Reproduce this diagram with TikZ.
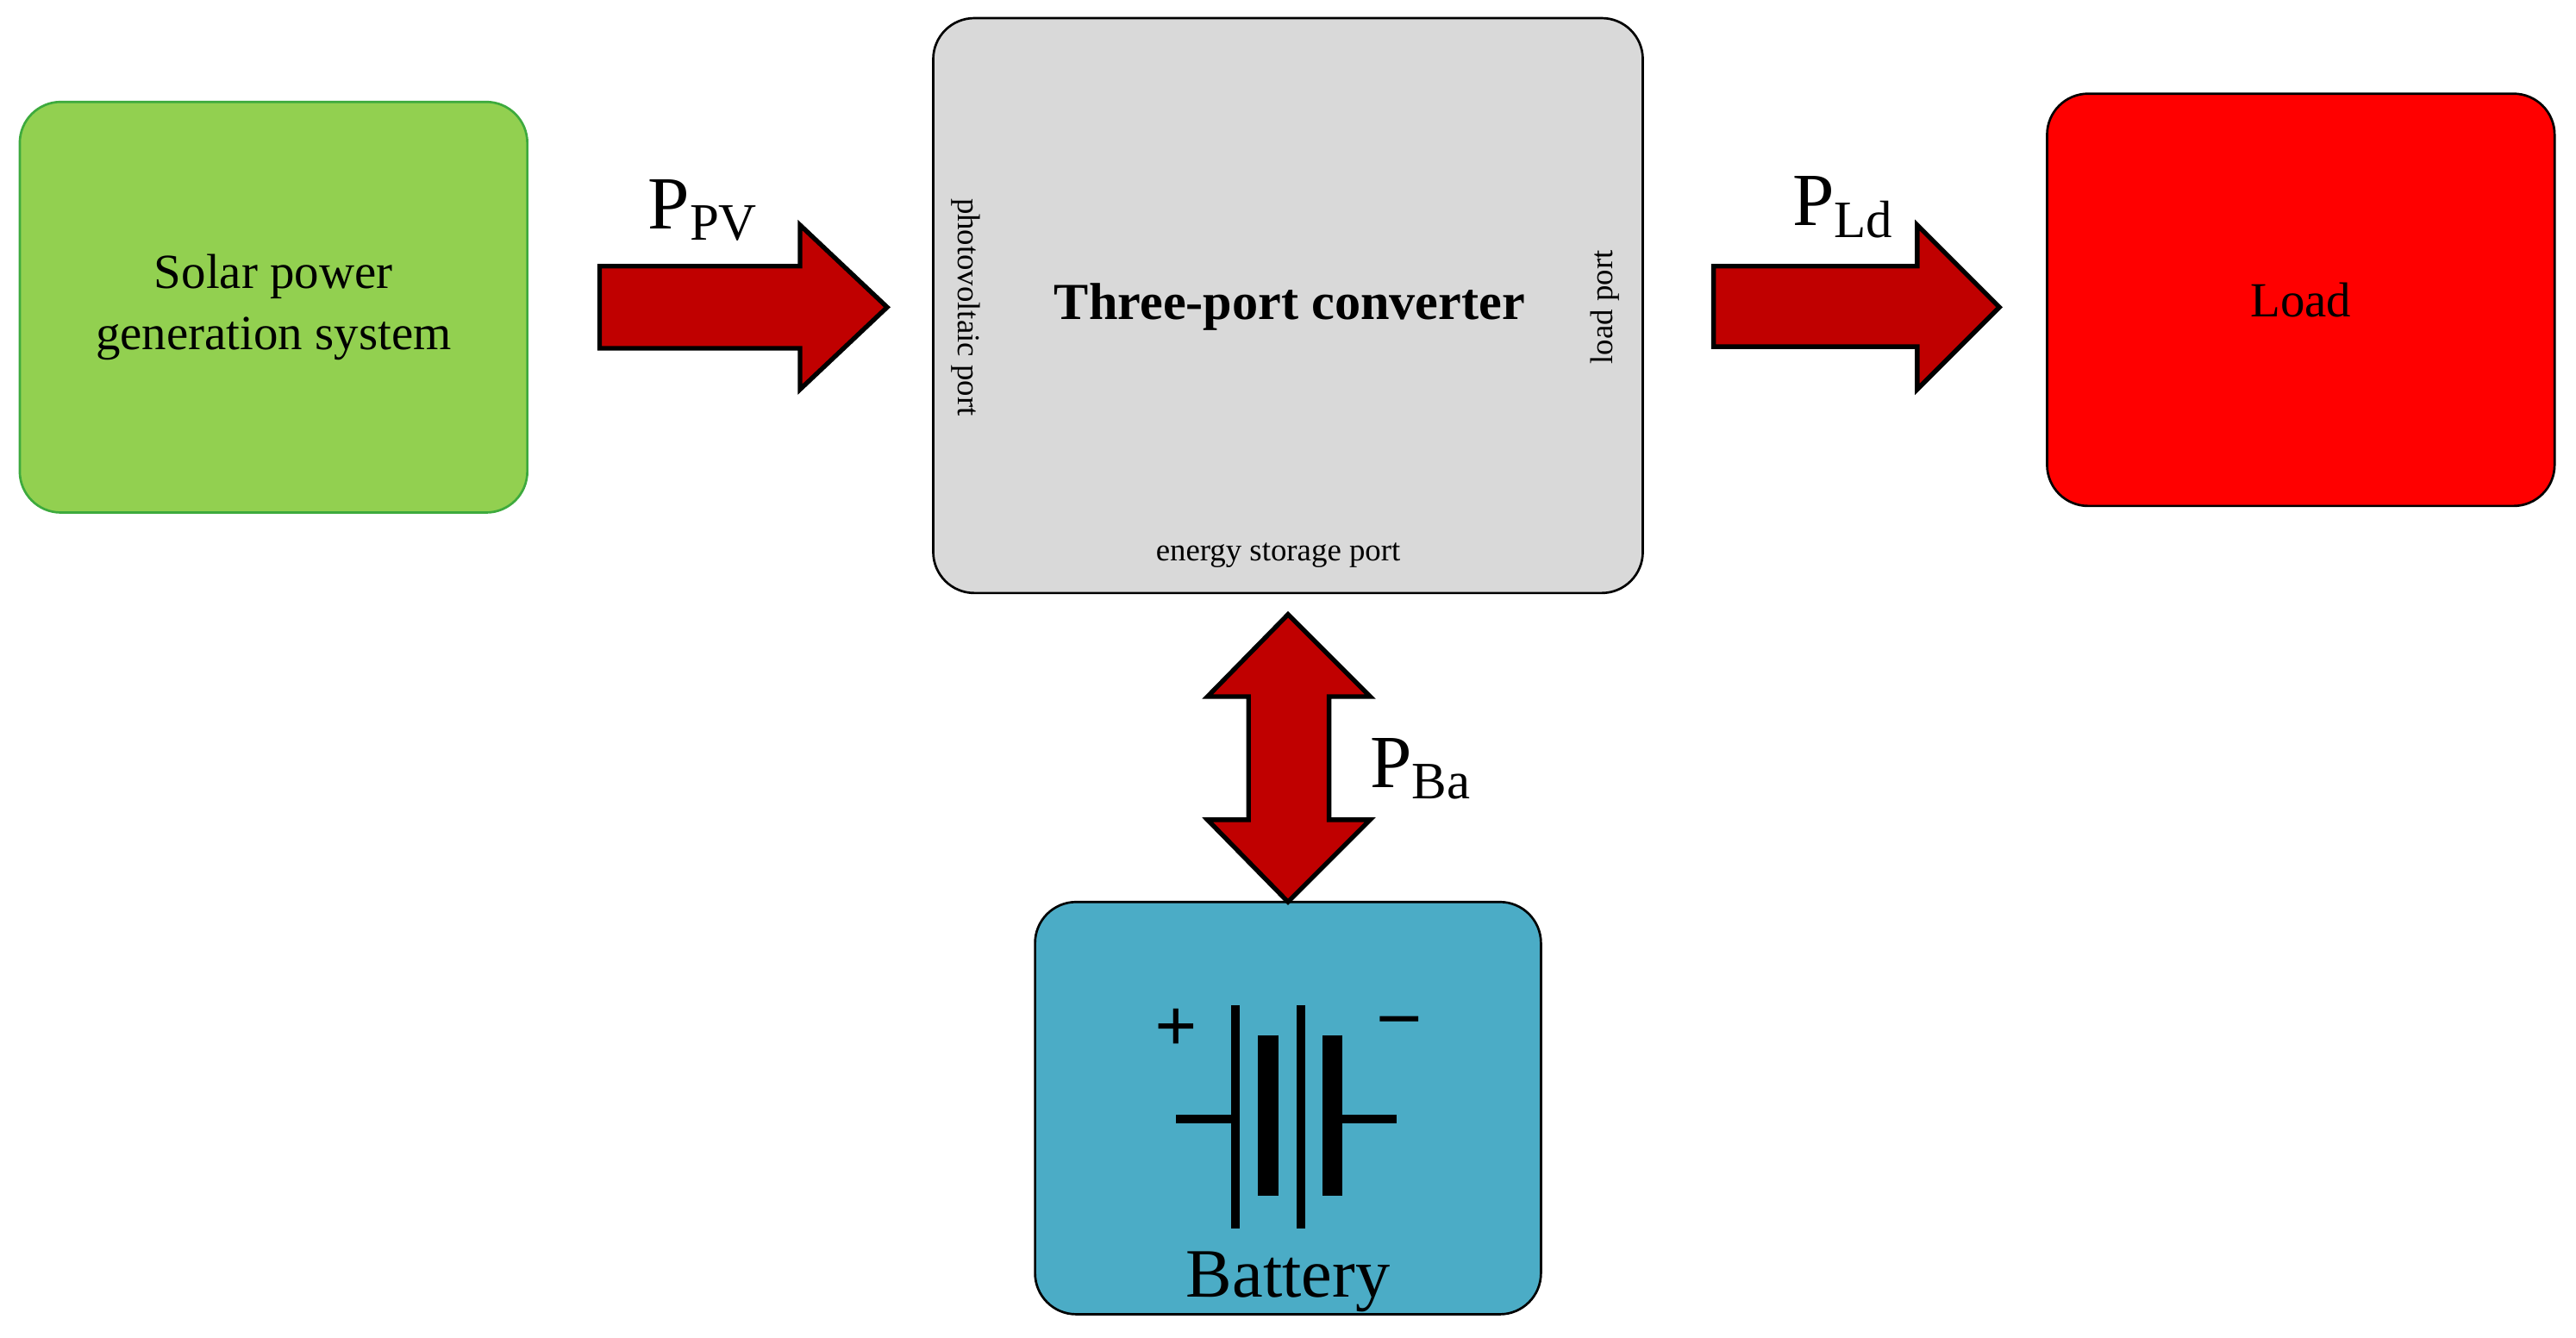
\documentclass[tikz,border=0pt]{standalone}
\usepackage{fontspec}
\setmainfont{Liberation Serif}
\usepackage{xcolor}
\definecolor{solargreen}{HTML}{92D050}
\definecolor{solaredge}{HTML}{3DAA3D}
\definecolor{convgray}{HTML}{D9D9D9}
\definecolor{batblue}{HTML}{4BACC6}
\definecolor{flowred}{HTML}{C00000}
\tikzset{
    block/.style = {draw, rounded corners=0.5cm, line width=0.8pt},
    flow/.style = {draw, fill=flowred, line width=1.6pt, line join=miter},
    plate/.style = {line width=#1, line cap=butt}
}

\begin{document}
\begin{tikzpicture}[x=0.02cm, y=-0.02cm]

    \useasboundingbox (0,0) rectangle (1568,814);

    % blocks
    \node [block, fill=solargreen, draw=solaredge, minimum width=6.18cm, minimum height=5cm,
           align=center, font=\fontsize{17}{21}\selectfont] (solar) at (166.5,187) {Solar power\\generation system};
    \node [block, fill=convgray, minimum width=8.64cm, minimum height=7cm] (conv) at (784,186) {};
    \node [block, fill=red, minimum width=6.18cm, minimum height=5.02cm,
           font=\fontsize{17}{21}\selectfont] (load) at (1400.5,182.5) {Load};
    \node [block, fill=batblue, minimum width=6.16cm, minimum height=5.02cm] (bat) at (784,674.5) {};

    % converter texts
    \node [font=\bfseries\fontsize{18}{22}\selectfont] (title) at (785,187) {Three-port converter};
    \node [rotate=-90, font=\fontsize{11}{13}\selectfont] (pvport) at (588,187) {photovoltaic port};
    \node [rotate=90, font=\fontsize{11}{13}\selectfont] (ldport) at (977,187) {load port};
    \node [font=\fontsize{11}{13}\selectfont] (esport) at (778,338) {energy storage port};
    \node [font=\fontsize{24}{28}\selectfont] (battxt) at (784,780) {Battery};

    % power flows
    \draw [flow] (365,162) -- (487,162) -- (487,137) -- (540,187) -- (487,237) -- (487,212) -- (365,212) -- cycle;
    \draw [flow] (1043,162) -- (1167,162) -- (1167,137) -- (1217,187) -- (1167,237) -- (1167,211) -- (1043,211) -- cycle;
    \draw [flow] (784,374) -- (834,424) -- (809,424) -- (809,499) -- (834,499) -- (784,549)
                 -- (735,499) -- (760,499) -- (760,424) -- (735,424) -- cycle;

    \node [font=\fontsize{26}{30}\selectfont] (ppv) at (428,128) {P\textsubscript{PV}};
    \node [font=\fontsize{26}{30}\selectfont] (pld) at (1122,126) {P\textsubscript{Ld}};
    \node [font=\fontsize{26}{30}\selectfont] (pba) at (865,468) {P\textsubscript{Ba}};

    % battery symbol
    \node [font=\bfseries\fontsize{26}{30}\selectfont] (plus) at (716,627) {+};
    \node [font=\bfseries\fontsize{26}{30}\selectfont] (minus) at (852,625) {\textendash};
    \draw [plate=3pt] (716,681) -- (752,681);
    \draw [plate=3pt] (811,681) -- (850,681);
    \draw [plate=3pt] (752,612) -- (752,748);
    \draw [plate=7pt] (772,630) -- (772,728);
    \draw [plate=3pt] (792,612) -- (792,748);
    \draw [plate=7pt] (811,630) -- (811,728);

\end{tikzpicture}
\end{document}
